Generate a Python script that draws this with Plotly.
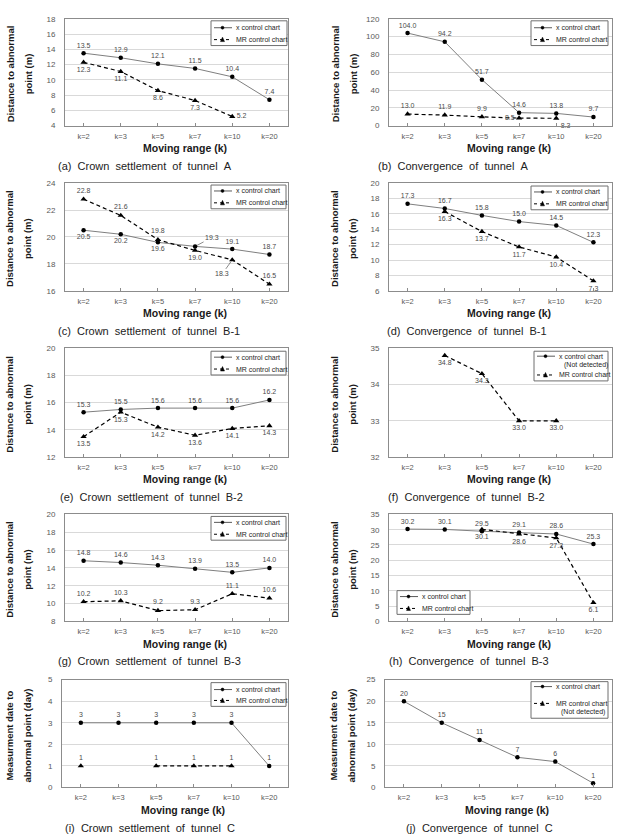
import plotly.graph_objects as go

W, H = 619, 838

# ---------------- data ----------------
categories = ["k=2", "k=3", "k=5", "k=7", "k=10", "k=20"]

a_x = [13.5, 12.9, 12.1, 11.5, 10.4, 7.4]
a_mr = [12.3, 11.1, 8.6, 7.3, 5.2, None]

b_x = [104.0, 94.2, 51.7, 14.6, 13.8, 9.7]
b_mr = [13.0, 11.9, 9.9, 8.5, 8.3, None]

c_x = [20.5, 20.2, 19.6, 19.3, 19.1, 18.7]
c_mr = [22.8, 21.6, 19.8, 19.0, 18.3, 16.5]

d_x = [17.3, 16.7, 15.8, 15.0, 14.5, 12.3]
d_mr = [None, 16.3, 13.7, 11.7, 10.4, 7.3]

e_x = [15.3, 15.5, 15.6, 15.6, 15.6, 16.2]
e_mr = [13.5, 15.3, 14.2, 13.6, 14.1, 14.3]

f_x = [None, None, None, None, None, None]
f_mr = [None, 34.8, 34.3, 33.0, 33.0, None]

g_x = [14.8, 14.6, 14.3, 13.9, 13.5, 14.0]
g_mr = [10.2, 10.3, 9.2, 9.3, 11.1, 10.6]

h_x = [30.2, 30.1, 29.5, 29.1, 28.6, 25.3]
h_mr = [None, None, 30.1, 28.6, 27.3, 6.1]

i_x = [3, 3, 3, 3, 3, 1]
i_mr = [1, None, 1, 1, 1, None]

j_x = [20, 15, 11, 7, 6, 1]
j_mr = [None, None, None, None, None, None]

captions = [
    "(a) Crown settlement of tunnel A", "(b) Convergence of tunnel A",
    "(c) Crown settlement of tunnel B-1", "(d) Convergence of tunnel B-1",
    "(e) Crown settlement of tunnel B-2", "(f) Convergence of tunnel B-2",
    "(g) Crown settlement of tunnel B-3", "(h) Convergence of tunnel B-3",
    "(i) Crown settlement of tunnel C", "(j) Convergence of tunnel C",
]
dist_title = ("Distance to abnormal", "point (m)")
date_title = ("Measurment date to", "abnormal point (day)")
x_title = "Moving range (k)"
x_name = "x control chart"
mr_name = "MR control chart"
not_detected = "(Not detected)"

# ---------------- layout helpers ----------------
FONT = "Liberation Sans, Arial, sans-serif"
GRAY_TXT = "#4a4a4a"
TICK_TXT = "#595959"
FRAME = "#8c8c8c"
GRID = "#d9d9d9"


def fx(p):
    return p / W


def fy(p):
    return 1 - p / H


TC, BC, ML, MR_, BR = "top center", "bottom center", "middle left", "middle right", "bottom right"

rows_tb = [(15, 123), (181, 290), (348, 458), (516, 624), (683, 792)]

panels = [
    dict(xv=a_x, mv=a_mr, yr=(4, 18), dt=2, cap_x=145, yt=dist_title, lr=(65, 288), ytx=(10, 28),
         xpos=[TC] * 6, mpos=[BC, BC, BC, BC, MR_, BC], fmt="{:.1f}",
         leg=dict(L=211, T=17, w=76, h=25, items=[("x", x_name, 7), ("mr", mr_name, 19)])),
    dict(xv=b_x, mv=b_mr, yr=(0, 120), dt=20, cap_x=453, yt=dist_title, lr=(389, 612), ytx=(335, 353),
         xpos=[TC] * 6, mpos=[TC, TC, TC, ML, BR, TC], fmt="{:.1f}",
         leg=dict(L=531, T=17, w=77, h=25, items=[("x", x_name, 7), ("mr", mr_name, 19)])),
    dict(xv=c_x, mv=c_mr, yr=(16, 24), dt=2, cap_x=149, yt=dist_title, lr=(65, 288), ytx=(10, 28),
         xpos=[BC, BC, BC, None, TC, TC], mpos=[TC, TC, TC, BC, None, TC], fmt="{:.1f}",
         leaders={("x", 3): (17, -9), ("mr", 4): (-10, 14)},
         leg=dict(L=211, T=183, w=75, h=24, items=[("x", x_name, 6), ("mr", mr_name, 18)])),
    dict(xv=d_x, mv=d_mr, yr=(6, 20), dt=2, cap_x=467, yt=dist_title, lr=(389, 612), ytx=(335, 353),
         xpos=[TC] * 6, mpos=[BC] * 6, fmt="{:.1f}",
         leg=dict(L=531, T=184, w=77, h=24, items=[("x", x_name, 6), ("mr", mr_name, 18)])),
    dict(xv=e_x, mv=e_mr, yr=(12, 20), dt=2, cap_x=151, yt=dist_title, lr=(65, 288), ytx=(10, 28),
         xpos=[TC] * 6, mpos=[BC] * 6, fmt="{:.1f}",
         leg=dict(L=211, T=351, w=75, h=24, items=[("x", x_name, 6), ("mr", mr_name, 18)])),
    dict(xv=f_x, mv=f_mr, yr=(32, 35), dt=1, cap_x=467, yt=dist_title, lr=(389, 612), ytx=(335, 353),
         xpos=[TC] * 6, mpos=[BC] * 6, fmt="{:.1f}",
         leg=dict(L=534, T=351, w=74, h=30,
                  items=[("x", x_name, 5), (None, not_detected, 14), ("mr", mr_name, 24)])),
    dict(xv=g_x, mv=g_mr, yr=(8, 20), dt=2, cap_x=149, yt=dist_title, lr=(65, 288), ytx=(10, 28),
         xpos=[TC] * 6, mpos=[TC] * 6, fmt="{:.1f}",
         leg=dict(L=211, T=518, w=75, h=24, items=[("x", x_name, 6), ("mr", mr_name, 18)])),
    dict(xv=h_x, mv=h_mr, yr=(0, 35), dt=5, cap_x=469, yt=dist_title, lr=(389, 612), ytx=(335, 353),
         xpos=[TC] * 6, mpos=[BC] * 6, fmt="{:.1f}",
         leg=dict(L=397, T=593, w=73, h=24, items=[("x", x_name, 6), ("mr", mr_name, 18)])),
    dict(xv=i_x, mv=i_mr, yr=(0, 5), dt=1, cap_x=150, yt=date_title, lr=(62, 288), ytx=(10, 28),
         xpos=[TC] * 6, mpos=[TC] * 6, fmt="{:.0f}",
         leg=dict(L=211, T=686, w=75, h=24, items=[("x", x_name, 7), ("mr", mr_name, 18)])),
    dict(xv=j_x, mv=j_mr, yr=(0, 25), dt=5, cap_x=479, yt=date_title, lr=(385, 612), ytx=(334, 352),
         xpos=[TC] * 6, mpos=[TC] * 6, fmt="{:.0f}",
         leg=dict(L=531, T=685, w=77, h=37,
                  items=[("x", x_name, 5), ("mr", mr_name, 22), (None, not_detected, 31)])),
]

fig = go.Figure()
layout = {}
annotations = []
shapes = []

for n, p in enumerate(panels):
    idx = n + 1
    row = n // 2
    top, bot = rows_tb[row]
    L, R = p["lr"]
    xa = "xaxis" if idx == 1 else f"xaxis{idx}"
    ya = "yaxis" if idx == 1 else f"yaxis{idx}"
    xr = "x" if idx == 1 else f"x{idx}"
    yr = "y" if idx == 1 else f"y{idx}"
    lo, hi = p["yr"]
    layout[xa] = dict(
        domain=[fx(L), fx(R)], anchor=yr, type="category",
        categoryorder="array", categoryarray=categories, range=[-0.5, 5.5],
        showline=True, mirror=True, linecolor=FRAME, linewidth=1,
        ticks="inside", ticklen=3, tickcolor=FRAME, tickwidth=1,
        tickfont=dict(family=FONT, size=7.5, color=TICK_TXT),
        showgrid=False, zeroline=False, ticklabelstandoff=3, fixedrange=True,
    )
    layout[ya] = dict(
        domain=[fy(bot), fy(top)], anchor=xr, range=[lo, hi], dtick=p["dt"], tick0=lo,
        showline=True, mirror=True, linecolor=FRAME, linewidth=1,
        showgrid=True, gridcolor=GRID, gridwidth=1, zeroline=False, ticks="",
        tickfont=dict(family=FONT, size=8, color=TICK_TXT), ticklabelstandoff=7, fixedrange=True,
    )

    leaders = p.get("leaders", {})
    for kind, vals, pos in (("x", p["xv"], p["xpos"]), ("mr", p["mv"], p["mpos"])):
        if all(v is None for v in vals):
            continue
        texts = []
        tpos = []
        for k, v in enumerate(vals):
            if v is None or pos[k] is None or (kind, k) in leaders:
                texts.append("")
                tpos.append(TC)
            else:
                texts.append(p["fmt"].format(v))
                tpos.append(pos[k])
        if kind == "x":
            line = dict(color="#7f7f7f", width=1)
            marker = dict(symbol="circle", size=4.5, color="#000000")
        else:
            line = dict(color="#000000", width=1.2, dash="4px,3px")
            marker = dict(symbol="triangle-up", size=5.5, color="#000000")
        fig.add_trace(go.Scatter(
            x=categories, y=vals, mode="lines+markers+text", text=texts, textposition=tpos,
            textfont=dict(family=FONT, size=7, color=GRAY_TXT), line=line, marker=marker,
            cliponaxis=False, showlegend=False, xaxis=xr, yaxis=yr, hoverinfo="skip",
        ))
        for (lk, li), (ax, ay) in leaders.items():
            if lk == kind and vals[li] is not None:
                annotations.append(dict(
                    x=categories[li], y=vals[li], xref=xr, yref=yr, text=p["fmt"].format(vals[li]),
                    showarrow=True, arrowhead=0, arrowwidth=0.7, arrowcolor="#595959",
                    ax=ax, ay=ay, standoff=2,
                    font=dict(family=FONT, size=7, color=GRAY_TXT),
                ))

    # axis titles and caption
    cy = (top + bot) / 2 + 2
    for line_txt, tx in zip(p["yt"], p["ytx"]):
        annotations.append(dict(
            x=fx(tx), y=fy(cy), xref="paper", yref="paper", text=f"<b>{line_txt}</b>",
            textangle=-90, showarrow=False, xanchor="center", yanchor="middle",
            font=dict(family=FONT, size=9.5, color="#1a1a1a"),
        ))
    annotations.append(dict(
        x=fx((L + R) / 2 + 8), y=fy(bot + 22.5), xref="paper", yref="paper",
        text=f"<b>{x_title}</b>", showarrow=False, xanchor="center", yanchor="middle",
        font=dict(family=FONT, size=10.5, color="#1a1a1a"),
    ))
    annotations.append(dict(
        x=fx(p["cap_x"]), y=fy(bot + 40.5), xref="paper", yref="paper",
        text="\u00a0\u00a0".join(captions[n].split(" ")), showarrow=False,
        xanchor="center", yanchor="middle",
        font=dict(family=FONT, size=11, color="#222222"),
    ))

    # legend box
    lg = p["leg"]
    Lx, Ty = lg["L"], lg["T"]
    shapes.append(dict(type="rect", xref="paper", yref="paper",
                       x0=fx(Lx), x1=fx(Lx + lg["w"]), y0=fy(Ty + lg["h"]), y1=fy(Ty),
                       line=dict(color="#6f6f6f", width=1), fillcolor="white", layer="above"))
    for kind, label, dy in lg["items"]:
        yy = Ty + dy
        if kind == "x":
            shapes.append(dict(type="line", xref="paper", yref="paper",
                               x0=fx(Lx + 3), x1=fx(Lx + 21), y0=fy(yy), y1=fy(yy),
                               line=dict(color="#595959", width=1), layer="above"))
            shapes.append(dict(type="circle", xref="paper", yref="paper",
                               x0=fx(Lx + 10), x1=fx(Lx + 13), y0=fy(yy + 1.5), y1=fy(yy - 1.5),
                               line=dict(color="black", width=0.5), fillcolor="black", layer="above"))
            tx0 = Lx + 23
        elif kind == "mr":
            shapes.append(dict(type="line", xref="paper", yref="paper",
                               x0=fx(Lx + 3), x1=fx(Lx + 21), y0=fy(yy), y1=fy(yy),
                               line=dict(color="black", width=1, dash="3px,3px"), layer="above"))
            shapes.append(dict(type="path", xref="paper", yref="paper",
                               path=f"M {fx(Lx + 9.5)},{fy(yy + 2)} L {fx(Lx + 13.5)},{fy(yy + 2)} "
                                    f"L {fx(Lx + 11.5)},{fy(yy - 2.5)} Z",
                               line=dict(color="black", width=0.5), fillcolor="black", layer="above"))
            tx0 = Lx + 23
        else:
            tx0 = Lx + 28
        annotations.append(dict(
            x=fx(tx0), y=fy(yy), xref="paper", yref="paper", text=label, showarrow=False,
            xanchor="left", yanchor="middle", font=dict(family=FONT, size=7, color="#262626"),
        ))

fig.update_layout(
    width=W, height=H, margin=dict(l=0, r=0, t=0, b=0),
    paper_bgcolor="white", plot_bgcolor="white", showlegend=False,
    font=dict(family=FONT), annotations=annotations, shapes=shapes, **layout,
)

fig.write_html("out.html")
